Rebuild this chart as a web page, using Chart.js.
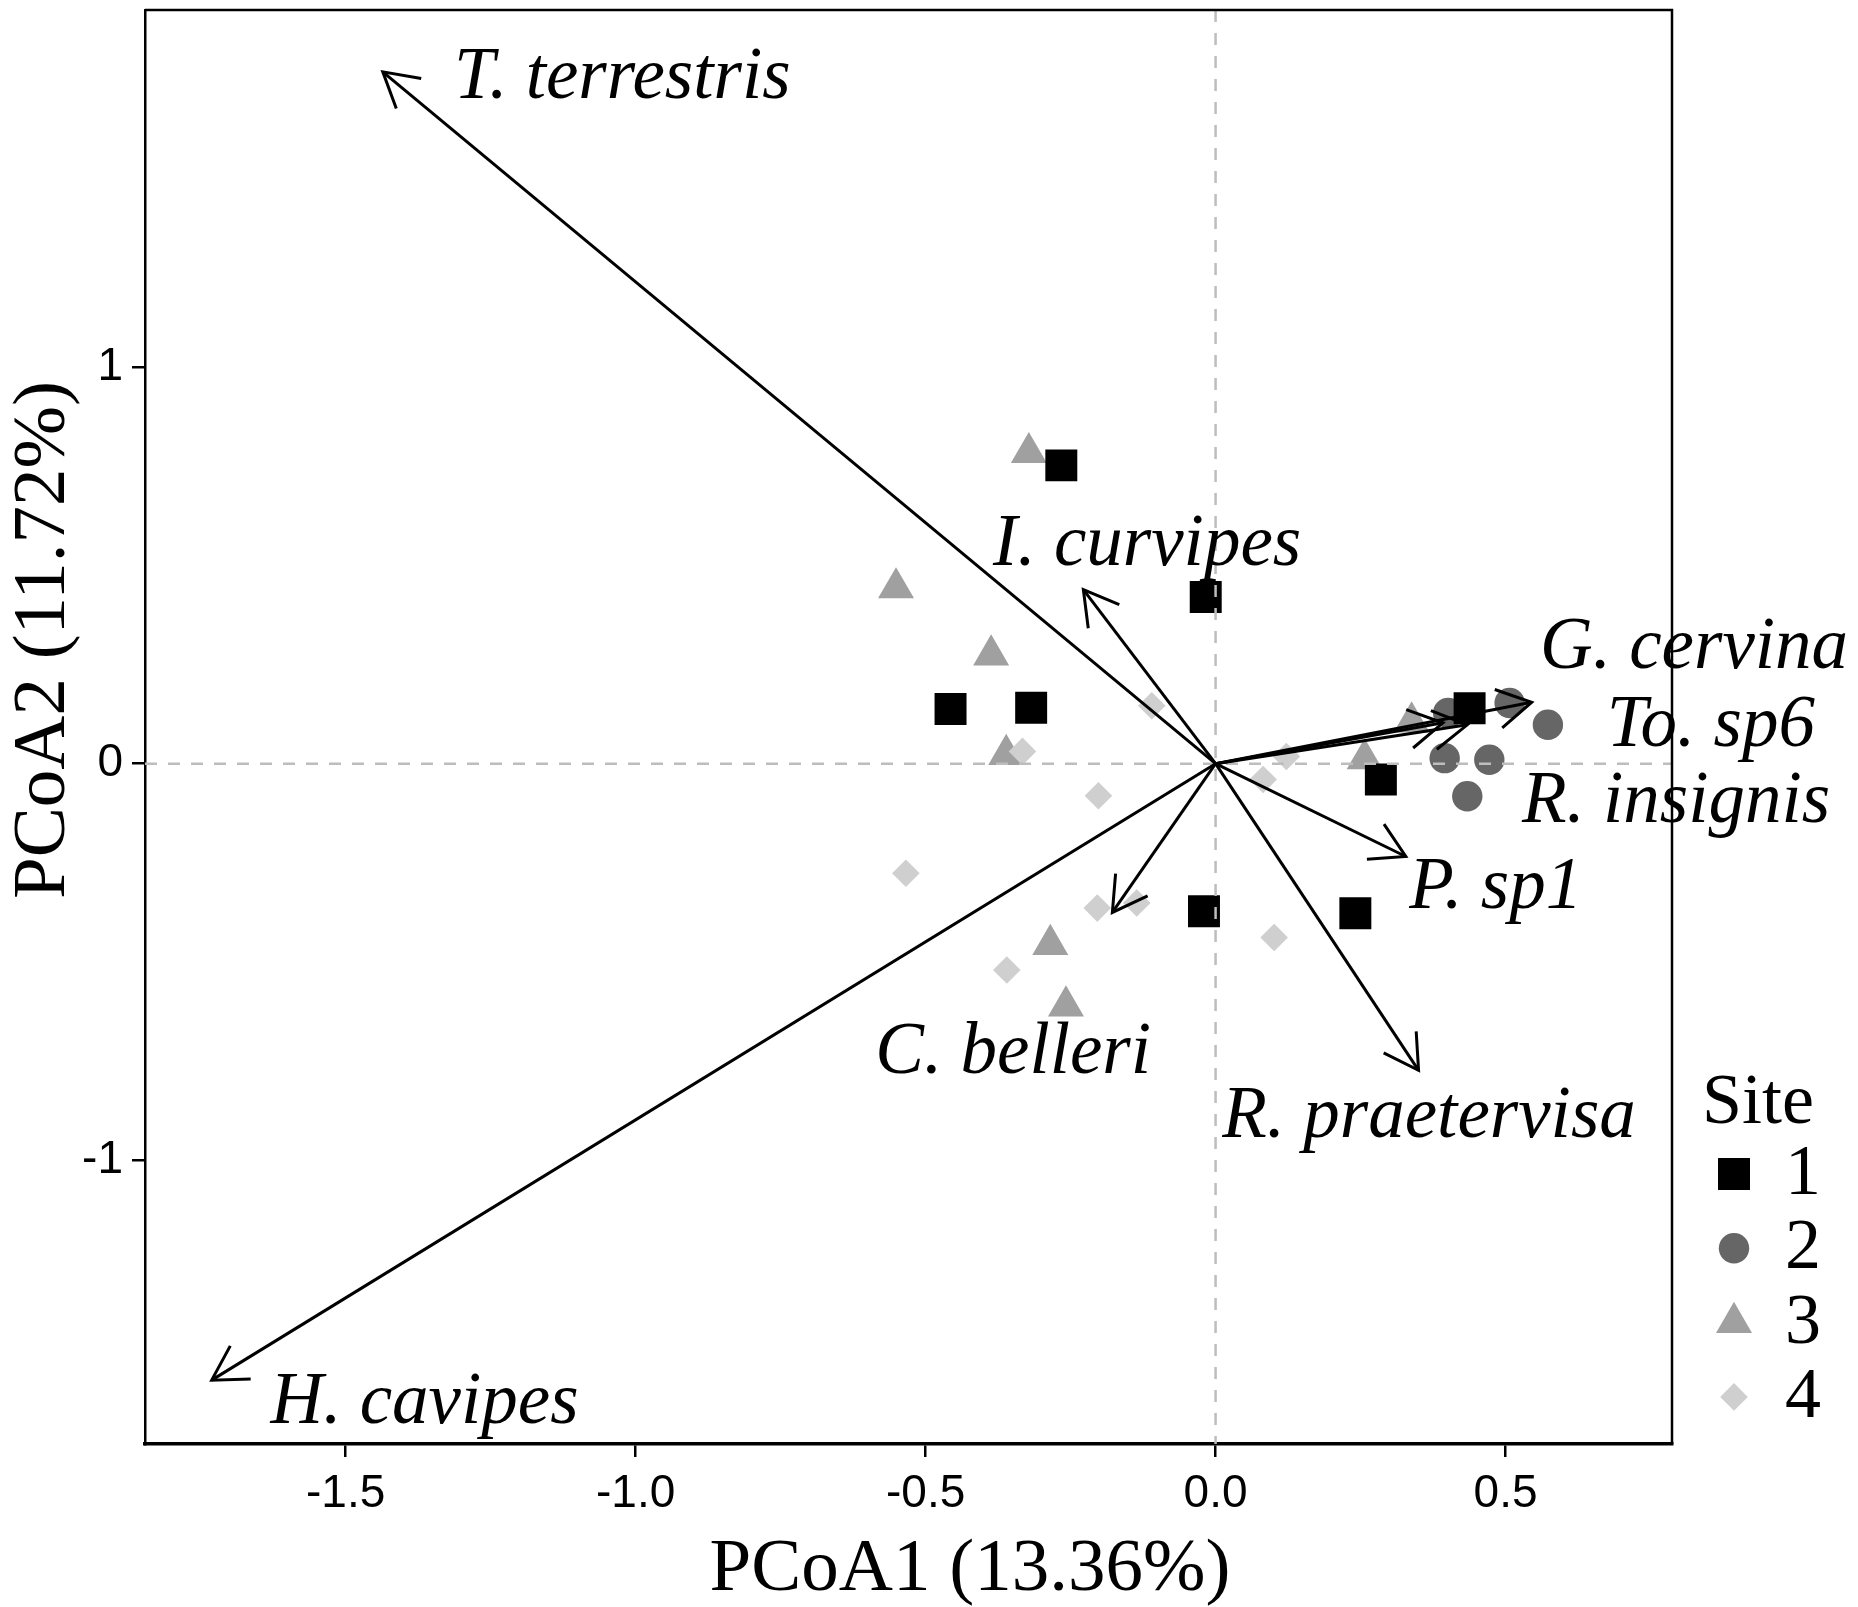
<!DOCTYPE html>
<html>
<head>
<meta charset="utf-8">
<script src="https://cdn.jsdelivr.net/npm/chart.js@4.4.1/dist/chart.umd.min.js"></script>
<style>
  html, body { margin: 0; padding: 0; background: #fff; }
  #wrap { width: 1858px; height: 1607px; }
</style>
</head>
<body>
<div id="wrap"><canvas id="chart" width="1858" height="1607" style="width:1858px;height:1607px"></canvas></div>
<script>
// site scores on the first two PCoA axes
const site1X = [-0.266, -0.017, -0.457, -0.318, 0.438, 0.285, -0.020, 0.241]
const site1Y = [0.752, 0.420, 0.138, 0.141, 0.140, -0.040, -0.372, -0.377]
const site2X = [0.401, 0.507, 0.573, 0.395, 0.472, 0.434]
const site2Y = [0.128, 0.153, 0.098, 0.014, 0.010, -0.082]
const site3X = [-0.322, -0.551, -0.387, -0.361, -0.285, -0.258, 0.257, 0.338]
const site3Y = [0.784, 0.443, 0.274, 0.023, -0.456, -0.611, 0.012, 0.105]
const site4X = [-0.333, -0.110, 0.122, 0.082, -0.202, -0.534, -0.204, -0.136, -0.360, 0.101]
const site4Y = [0.031, 0.146, 0.018, -0.040, -0.081, -0.276, -0.364, -0.351, -0.520, -0.438]
const siteNames = ['1', '2', '3', '4']

// species vectors (arrow tips) and where their names sit
const speciesNames = ['T. terrestris', 'H. cavipes', 'I. curvipes', 'C. belleri', 'P. sp1',
  'R. praetervisa', 'G. cervina', 'To. sp6', 'R. insignis']
const vectorX = [-1.436, -1.731, -0.228, -0.178, 0.328, 0.350, 0.545, 0.434, 0.392]
const vectorY = [1.744, -1.554, 0.439, -0.375, -0.234, -0.773, 0.155, 0.098, 0.103]
const labelX = [-1.023, -1.364, -0.118, -0.349, 0.483, 0.368, 0.825, 0.854, 0.794]
const labelY = [1.677, -1.661, 0.500, -0.780, -0.364, -0.942, 0.240, 0.044, -0.146]

const xTicks = [-1.5, -1.0, -0.5, 0.0, 0.5]
const xTickLabels = ['-1.5', '-1.0', '-0.5', '0.0', '0.5']
const yTicks = [-1, 0, 1]
const yTickLabels = ['-1', '0', '1']
const xTitle = 'PCoA1 (13.36%)'
const yTitle = 'PCoA2 (11.72%)'

const siteX = [site1X, site2X, site3X, site4X]
const siteY = [site1Y, site2Y, site3Y, site4Y]
const siteStyle = ['rect', 'circle', 'triangle', 'rectRot']
const siteColor = ['#000000', '#666666', '#a0a0a0', '#cfcfcf']
const siteRadius = [22.6, 15.2, 20.8, 13.8]
const siteOrder = [1, 3, 4, 2]

const serif = '"Liberation Serif", "DejaVu Serif", serif'

const siteSets = siteNames.map((name, i) => ({
  label: name,
  type: 'scatter',
  data: siteX[i].map((x, j) => ({ x, y: siteY[i][j] })),
  pointStyle: siteStyle[i],
  pointRadius: siteRadius[i],
  pointHoverRadius: siteRadius[i],
  pointBackgroundColor: siteColor[i],
  pointBorderColor: siteColor[i],
  pointBorderWidth: 0,
  order: siteOrder[i],
}))

const arrowSets = speciesNames.map((name, i) => ({
  label: name,
  type: 'line',
  data: [{ x: 0, y: 0 }, { x: vectorX[i], y: vectorY[i] }],
  showLine: true,
  borderColor: '#000',
  borderWidth: 3,
  pointRadius: 0,
  fill: false,
  tension: 0,
  order: 0,
}))

const biplotExtras = {
  id: 'biplotExtras',
  afterDatasetDraw(chart, args) {
    // dashed zero lines sit on top of the points, under the arrows
    if (args.index !== 0) return
    const { ctx, chartArea: a, scales: { x, y } } = chart
    ctx.save()
    ctx.strokeStyle = '#bdbdbd'
    ctx.lineWidth = 2.5
    ctx.setLineDash([12, 11])
    ctx.beginPath()
    ctx.moveTo(a.left, y.getPixelForValue(0))
    ctx.lineTo(a.right, y.getPixelForValue(0))
    ctx.moveTo(x.getPixelForValue(0), a.top)
    ctx.lineTo(x.getPixelForValue(0), a.bottom)
    ctx.stroke()
    ctx.restore()
  },
  afterDatasetsDraw(chart) {
    const { ctx, scales: { x, y } } = chart
    const ox = x.getPixelForValue(0)
    const oy = y.getPixelForValue(0)
    const len = 39
    const spread = Math.PI / 6
    ctx.save()
    ctx.strokeStyle = '#000'
    ctx.lineWidth = 3
    ctx.lineJoin = 'miter'
    speciesNames.forEach((_, i) => {
      const tx = x.getPixelForValue(vectorX[i])
      const ty = y.getPixelForValue(vectorY[i])
      const th = Math.atan2(ty - oy, tx - ox)
      ctx.beginPath()
      ctx.moveTo(tx - len * Math.cos(th - spread), ty - len * Math.sin(th - spread))
      ctx.lineTo(tx, ty)
      ctx.lineTo(tx - len * Math.cos(th + spread), ty - len * Math.sin(th + spread))
      ctx.stroke()
    })
    ctx.fillStyle = '#000'
    ctx.font = 'italic 73px ' + serif
    ctx.textAlign = 'center'
    ctx.textBaseline = 'alphabetic'
    speciesNames.forEach((name, i) => {
      ctx.fillText(name, x.getPixelForValue(labelX[i]), y.getPixelForValue(labelY[i]))
    })
    ctx.restore()
  },
  afterDraw(chart) {
    const { ctx, chartArea: a } = chart
    ctx.save()
    // top and right edges of the panel box
    ctx.strokeStyle = '#000'
    ctx.lineWidth = 2.5
    ctx.beginPath()
    ctx.moveTo(a.left, a.top)
    ctx.lineTo(a.right, a.top)
    ctx.lineTo(a.right, a.bottom)
    ctx.stroke()

    // axis titles
    ctx.fillStyle = '#000'
    ctx.font = '75px ' + serif
    ctx.textAlign = 'center'
    ctx.textBaseline = 'alphabetic'
    ctx.fillText(xTitle, 970, 1590)
    ctx.save()
    ctx.translate(64, 640)
    ctx.rotate(-Math.PI / 2)
    ctx.fillText(yTitle, 0, 0)
    ctx.restore()

    // legend
    ctx.font = '72px ' + serif
    ctx.textAlign = 'left'
    ctx.fillText('Site', a.right + 30, 1123)
    siteNames.forEach((name, i) => {
      const base = 1194 + i * 74.3
      ctx.fillStyle = siteColor[i]
      Chart.helpers.drawPoint(ctx, {
        pointStyle: siteStyle[i],
        radius: siteRadius[i],
        rotation: 0,
        borderWidth: 0,
      }, a.right + 62, base - 20)
      ctx.fillStyle = '#000'
      ctx.fillText(name, a.right + 113, base)
    })
    ctx.restore()
  },
}

const tickFont = { family: '"Liberation Sans", Arial, sans-serif', size: 46 }

new Chart(document.getElementById('chart'), {
  type: 'scatter',
  data: { datasets: [...siteSets, ...arrowSets] },
  options: {
    responsive: false,
    maintainAspectRatio: false,
    animation: false,
    events: [],
    layout: { autoPadding: false, padding: { left: 0, right: 186, top: 10, bottom: 0 } },
    plugins: {
      legend: { display: false },
      tooltip: { enabled: false },
    },
    scales: {
      x: {
        type: 'linear',
        min: -1.846,
        max: 0.787,
        afterBuildTicks(scale) { scale.ticks = xTicks.map(value => ({ value })) },
        afterFit(scale) {
          scale.height = 163
          scale.paddingLeft = 0
          scale.paddingRight = 0
        },
        ticks: {
          callback: (value, index) => xTickLabels[index],
          font: tickFont,
          color: '#000',
          padding: 10,
          maxRotation: 0,
          autoSkip: false,
        },
        grid: { display: true, drawOnChartArea: false, drawTicks: true, tickLength: 13, color: '#000', lineWidth: 2.5 },
        border: { display: true, color: '#000', width: 3.5 },
      },
      y: {
        type: 'linear',
        min: -1.715,
        max: 1.9,
        afterBuildTicks(scale) { scale.ticks = yTicks.map(value => ({ value })) },
        afterFit(scale) {
          scale.width = 145
          scale.paddingTop = 0
          scale.paddingBottom = 0
        },
        ticks: {
          callback: (value, index) => yTickLabels[index],
          font: tickFont,
          color: '#000',
          padding: 9,
          autoSkip: false,
        },
        grid: { display: true, drawOnChartArea: false, drawTicks: true, tickLength: 13, color: '#000', lineWidth: 2.5 },
        border: { display: true, color: '#000', width: 2.5 },
      },
    },
  },
  plugins: [biplotExtras],
})
</script>
</body>
</html>
